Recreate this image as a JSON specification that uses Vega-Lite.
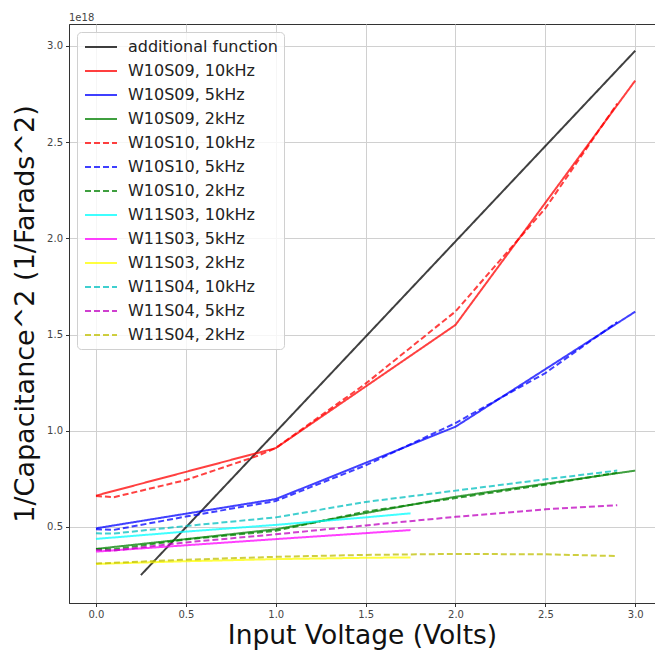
{
  "$schema": "https://vega.github.io/schema/vega-lite/v6.json",
  "width": 586,
  "height": 579,
  "autosize": {"type": "none"},
  "padding": {"left": 69, "top": 24, "right": 0, "bottom": 47},
  "background": "white",
  "title": {"text": "1e18", "anchor": "start", "frame": "group", "fontSize": 10, "fontWeight": "normal", "color": "#444", "font": "DejaVu Sans", "offset": 1},
  "config": {
    "font": "DejaVu Sans",
    "view": {"stroke": "#333", "strokeWidth": 1},
    "axis": {"gridColor": "#d0d0d0", "gridWidth": 1, "domainColor": "#333", "tickColor": "#333", "tickSize": 3.5, "labelFontSize": 10, "labelColor": "#444", "labelFont": "DejaVu Sans", "titleFont": "DejaVu Sans", "titleFontWeight": "normal", "titleColor": "#111"}
  },
  "data": {"values": [
    {"series": "additional function", "v": 0.25, "c": 2.5e17},
    {"series": "additional function", "v": 3.0, "c": 2.975e18},
    {"series": "W10S09, 10kHz", "v": 0, "c": 6.63e17},
    {"series": "W10S09, 10kHz", "v": 1, "c": 9.1e17},
    {"series": "W10S09, 10kHz", "v": 2, "c": 1.55e18},
    {"series": "W10S09, 10kHz", "v": 3, "c": 2.82e18},
    {"series": "W10S09, 5kHz", "v": 0, "c": 4.93e17},
    {"series": "W10S09, 5kHz", "v": 1, "c": 6.45e17},
    {"series": "W10S09, 5kHz", "v": 2, "c": 1.021e18},
    {"series": "W10S09, 5kHz", "v": 3, "c": 1.619e18},
    {"series": "W10S09, 2kHz", "v": 0, "c": 3.86e17},
    {"series": "W10S09, 2kHz", "v": 1, "c": 4.88e17},
    {"series": "W10S09, 2kHz", "v": 2, "c": 6.57e17},
    {"series": "W10S09, 2kHz", "v": 3, "c": 7.93e17},
    {"series": "W10S10, 10kHz", "v": 0, "c": 6.61e17},
    {"series": "W10S10, 10kHz", "v": 0.1, "c": 6.55e17},
    {"series": "W10S10, 10kHz", "v": 0.5, "c": 7.44e17},
    {"series": "W10S10, 10kHz", "v": 0.9, "c": 8.7e17},
    {"series": "W10S10, 10kHz", "v": 1.0, "c": 9.1e17},
    {"series": "W10S10, 10kHz", "v": 1.5, "c": 1.245e18},
    {"series": "W10S10, 10kHz", "v": 2.0, "c": 1.62e18},
    {"series": "W10S10, 10kHz", "v": 2.5, "c": 2.156e18},
    {"series": "W10S10, 10kHz", "v": 2.9, "c": 2.70e18},
    {"series": "W10S10, 5kHz", "v": 0, "c": 4.88e17},
    {"series": "W10S10, 5kHz", "v": 0.1, "c": 4.85e17},
    {"series": "W10S10, 5kHz", "v": 0.5, "c": 5.54e17},
    {"series": "W10S10, 5kHz", "v": 1.0, "c": 6.35e17},
    {"series": "W10S10, 5kHz", "v": 1.5, "c": 8.2e17},
    {"series": "W10S10, 5kHz", "v": 2.0, "c": 1.04e18},
    {"series": "W10S10, 5kHz", "v": 2.5, "c": 1.30e18},
    {"series": "W10S10, 5kHz", "v": 2.9, "c": 1.565e18},
    {"series": "W10S10, 2kHz", "v": 0, "c": 3.86e17},
    {"series": "W10S10, 2kHz", "v": 0.1, "c": 3.84e17},
    {"series": "W10S10, 2kHz", "v": 0.5, "c": 4.35e17},
    {"series": "W10S10, 2kHz", "v": 1.0, "c": 4.8e17},
    {"series": "W10S10, 2kHz", "v": 1.5, "c": 5.8e17},
    {"series": "W10S10, 2kHz", "v": 2.0, "c": 6.5e17},
    {"series": "W10S10, 2kHz", "v": 2.5, "c": 7.2e17},
    {"series": "W10S10, 2kHz", "v": 2.9, "c": 7.82e17},
    {"series": "W11S03, 10kHz", "v": 0, "c": 4.38e17},
    {"series": "W11S03, 10kHz", "v": 0.5, "c": 4.76e17},
    {"series": "W11S03, 10kHz", "v": 1.0, "c": 5.11e17},
    {"series": "W11S03, 10kHz", "v": 1.5, "c": 5.5e17},
    {"series": "W11S03, 10kHz", "v": 1.75, "c": 5.71e17},
    {"series": "W11S03, 5kHz", "v": 0, "c": 3.72e17},
    {"series": "W11S03, 5kHz", "v": 0.5, "c": 4.05e17},
    {"series": "W11S03, 5kHz", "v": 1.0, "c": 4.37e17},
    {"series": "W11S03, 5kHz", "v": 1.5, "c": 4.68e17},
    {"series": "W11S03, 5kHz", "v": 1.75, "c": 4.84e17},
    {"series": "W11S03, 2kHz", "v": 0, "c": 3.08e17},
    {"series": "W11S03, 2kHz", "v": 0.5, "c": 3.22e17},
    {"series": "W11S03, 2kHz", "v": 1.0, "c": 3.33e17},
    {"series": "W11S03, 2kHz", "v": 1.5, "c": 3.4e17},
    {"series": "W11S03, 2kHz", "v": 1.75, "c": 3.42e17},
    {"series": "W11S04, 10kHz", "v": 0, "c": 4.67e17},
    {"series": "W11S04, 10kHz", "v": 0.1, "c": 4.66e17},
    {"series": "W11S04, 10kHz", "v": 0.5, "c": 5.05e17},
    {"series": "W11S04, 10kHz", "v": 1.0, "c": 5.5e17},
    {"series": "W11S04, 10kHz", "v": 1.5, "c": 6.3e17},
    {"series": "W11S04, 10kHz", "v": 2.0, "c": 6.89e17},
    {"series": "W11S04, 10kHz", "v": 2.5, "c": 7.48e17},
    {"series": "W11S04, 10kHz", "v": 2.9, "c": 7.93e17},
    {"series": "W11S04, 5kHz", "v": 0, "c": 3.8e17},
    {"series": "W11S04, 5kHz", "v": 0.1, "c": 3.78e17},
    {"series": "W11S04, 5kHz", "v": 0.5, "c": 4.2e17},
    {"series": "W11S04, 5kHz", "v": 1.0, "c": 4.62e17},
    {"series": "W11S04, 5kHz", "v": 1.5, "c": 5.08e17},
    {"series": "W11S04, 5kHz", "v": 2.0, "c": 5.53e17},
    {"series": "W11S04, 5kHz", "v": 2.5, "c": 5.92e17},
    {"series": "W11S04, 5kHz", "v": 2.9, "c": 6.13e17},
    {"series": "W11S04, 2kHz", "v": 0, "c": 3.1e17},
    {"series": "W11S04, 2kHz", "v": 0.5, "c": 3.3e17},
    {"series": "W11S04, 2kHz", "v": 1.0, "c": 3.45e17},
    {"series": "W11S04, 2kHz", "v": 1.5, "c": 3.55e17},
    {"series": "W11S04, 2kHz", "v": 2.0, "c": 3.6e17},
    {"series": "W11S04, 2kHz", "v": 2.5, "c": 3.58e17},
    {"series": "W11S04, 2kHz", "v": 2.9, "c": 3.49e17}
  ]},
  "mark": {"type": "line", "strokeWidth": 2, "opacity": 0.75},
  "encoding": {
    "x": {"field": "v", "type": "quantitative",
      "scale": {"domain": [-0.15, 3.11], "nice": false, "zero": false},
      "axis": {"values": [0, 0.5, 1, 1.5, 2, 2.5, 3], "format": ".1f", "title": "Input Voltage (Volts)", "titleFontSize": 26.5, "titlePadding": 3, "labelPadding": 3}},
    "y": {"field": "c", "type": "quantitative",
      "scale": {"domain": [1.05e17, 3.114e18], "nice": false, "zero": false},
      "axis": {"values": [5e17, 1e18, 1.5e18, 2e18, 2.5e18, 3e18], "labelExpr": "format(datum.value / 1e18, '.1f')", "title": "1/Capacitance^2 (1/Farads^2)", "titleFontSize": 27, "titlePadding": 7, "labelPadding": 3}},
    "color": {"field": "series", "type": "nominal",
      "scale": {
        "domain": ["additional function", "W10S09, 10kHz", "W10S09, 5kHz", "W10S09, 2kHz", "W10S10, 10kHz", "W10S10, 5kHz", "W10S10, 2kHz", "W11S03, 10kHz", "W11S03, 5kHz", "W11S03, 2kHz", "W11S04, 10kHz", "W11S04, 5kHz", "W11S04, 2kHz"],
        "range": ["#000000", "#ff0000", "#0000ff", "#008000", "#ff0000", "#0000ff", "#008000", "#00ffff", "#ff00ff", "#ffff00", "#00bfbf", "#bf00bf", "#bfbf00"]},
      "legend": {"title": null, "orient": "top-left", "offset": 8, "symbolType": "M-2,0H2", "symbolSize": 256, "symbolOffset": 9, "symbolStrokeWidth": 2, "symbolOpacity": 0.75, "symbolFillColor": "transparent", "labelFontSize": 16, "labelFont": "DejaVu Sans", "labelColor": "#222", "labelOffset": 18, "rowPadding": 7, "padding": 6, "fillColor": "rgba(255,255,255,0.8)", "strokeColor": "#d0d0d0", "cornerRadius": 4, "labelLimit": 400}},
    "strokeDash": {"field": "series", "type": "nominal",
      "scale": {
        "domain": ["additional function", "W10S09, 10kHz", "W10S09, 5kHz", "W10S09, 2kHz", "W10S10, 10kHz", "W10S10, 5kHz", "W10S10, 2kHz", "W11S03, 10kHz", "W11S03, 5kHz", "W11S03, 2kHz", "W11S04, 10kHz", "W11S04, 5kHz", "W11S04, 2kHz"],
        "range": [[1, 0], [1, 0], [1, 0], [1, 0], [6, 3], [6, 3], [6, 3], [1, 0], [1, 0], [1, 0], [6, 3], [6, 3], [6, 3]]},
      "legend": {"title": null, "orient": "top-left", "offset": 8, "symbolType": "M-2,0H2", "symbolSize": 256, "symbolOffset": 9, "symbolStrokeWidth": 2, "symbolOpacity": 0.75, "symbolFillColor": "transparent", "labelFontSize": 16, "labelFont": "DejaVu Sans", "labelColor": "#222", "labelOffset": 18, "rowPadding": 7, "padding": 6, "fillColor": "rgba(255,255,255,0.8)", "strokeColor": "#d0d0d0", "cornerRadius": 4, "labelLimit": 400}}
  }
}
